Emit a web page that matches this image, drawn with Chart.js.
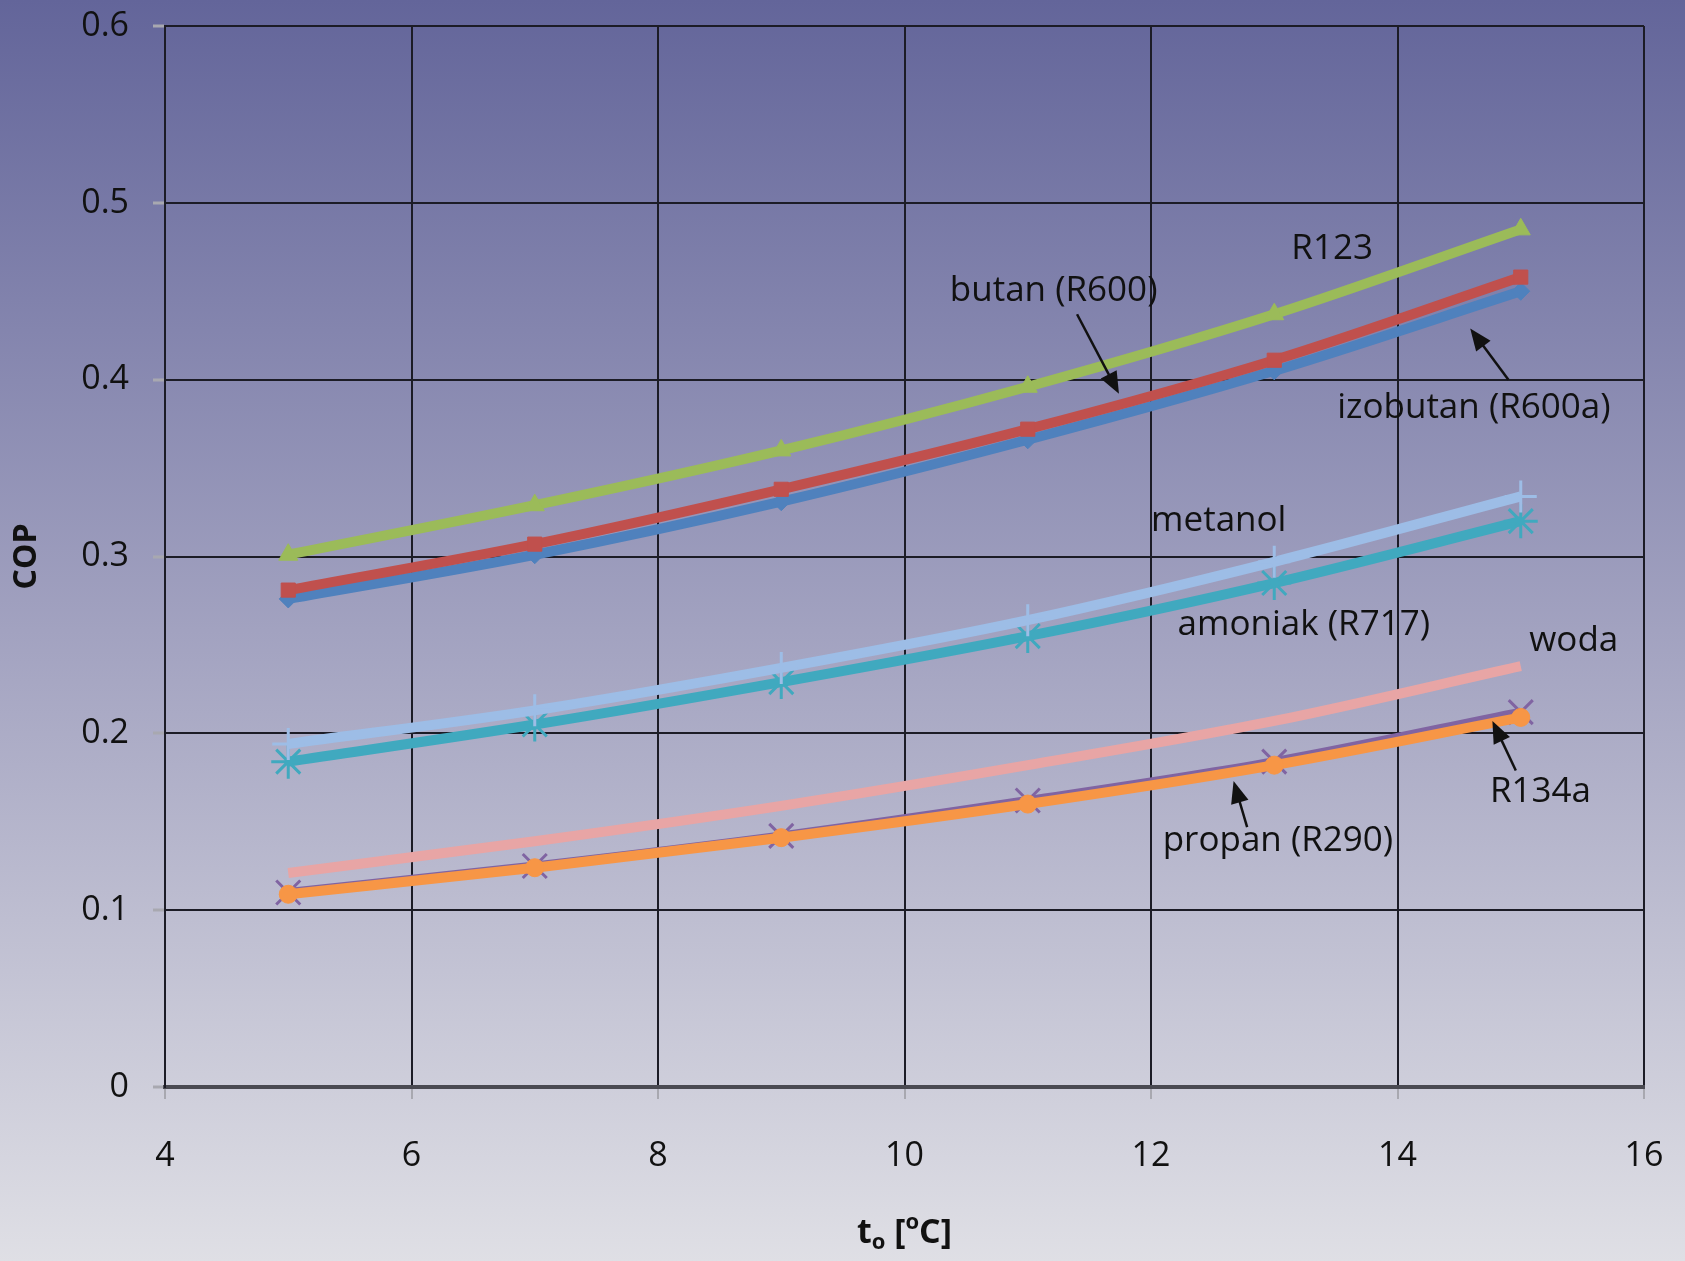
<!DOCTYPE html>
<html lang="pl">
<head>
    <meta charset="UTF-8">
    <title>COP vs t0</title>
    <script src="https://cdn.jsdelivr.net/npm/chart.js"></script>
    <style>
        html, body {
            margin: 0;
            padding: 0;
            background: #a0a0bc;
        }
        #wrap {
            width: 1685px;
            height: 1261px;
            position: relative;
        }
    </style>
</head>
<body>
    <div id="wrap">
        <canvas id="copChart"></canvas>
    </div>

    <script>
        // evaporation temperature t0 [°C]
        const temps = [5, 7, 9, 11, 13, 15];

        // COP values
        const r123     = [0.301, 0.329, 0.360, 0.396, 0.437, 0.485];
        const butan    = [0.281, 0.307, 0.338, 0.372, 0.411, 0.458];
        const izobutan = [0.276, 0.301, 0.331, 0.366, 0.405, 0.450];
        const metanol  = [0.194, 0.213, 0.237, 0.264, 0.297, 0.334];
        const amoniak  = [0.184, 0.205, 0.229, 0.255, 0.285, 0.320];
        const woda     = [0.121, 0.139, 0.159, 0.182, 0.207, 0.238];
        const r134a    = [0.110, 0.125, 0.142, 0.162, 0.184, 0.212];
        const propan   = [0.109, 0.124, 0.141, 0.160, 0.182, 0.209];

        const xTicks = [4, 6, 8, 10, 12, 14, 16];
        const yTicks = [0, 0.1, 0.2, 0.3, 0.4, 0.5, 0.6];

        // labels on the plot (x, y in data units), with optional arrow
        const notes = [
            { text: 'R123', x: 13.47, y: 0.474 },
            { text: 'butan (R600)', x: 11.21, y: 0.450, arrow: [11.40, 0.437, 11.74, 0.392] },
            { text: 'izobutan (R600a)', x: 14.62, y: 0.384, arrow: [14.90, 0.400, 14.59, 0.429] },
            { text: 'metanol', x: 12.55, y: 0.320 },
            { text: 'amoniak (R717)', x: 13.24, y: 0.261 },
            { text: 'woda', x: 15.43, y: 0.252 },
            { text: 'R134a', x: 15.16, y: 0.167, arrow: [14.96, 0.179, 14.77, 0.207] },
            { text: 'propan (R290)', x: 13.03, y: 0.139, arrow: [12.78, 0.147, 12.67, 0.173] }
        ];

        const pts = arr => arr.map((v, i) => ({ x: temps[i], y: v }));

        function series(label, values, color, style, radius, lineW) {
            return {
                label: label,
                data: pts(values),
                borderColor: color,
                backgroundColor: color,
                pointBorderColor: color,
                pointBackgroundColor: color,
                borderWidth: lineW || 10,
                pointStyle: style,
                pointRadius: radius,
                pointBorderWidth: style === 'star' || style === 'crossRot' || style === 'cross' ? 3 : 1,
                cubicInterpolationMode: 'monotone'
            };
        }

        // first dataset is drawn on top
        const datasets = [
            series('R123', r123, '#9bbb59', 'triangle', 11),
            series('butan (R600)', butan, '#c0504d', 'rect', 10),
            series('izobutan (R600a)', izobutan, '#4f81bd', 'rectRot', 9),
            series('propan (R290)', propan, '#f79646', 'circle', 9),
            series('R134a', r134a, '#8064a2', 'crossRot', 17, 9),
            series('metanol', metanol, '#9dbde6', 'cross', 16),
            series('amoniak (R717)', amoniak, '#40a9bf', 'star', 17),
            series('woda', woda, '#e8a5a5', 'circle', 0)
        ];

        const bgPlugin = {
            id: 'bg',
            beforeDraw(chart) {
                const ctx = chart.ctx;
                const g = ctx.createLinearGradient(0, 0, 0, chart.height);
                g.addColorStop(0, '#63659a');
                g.addColorStop(0.5, '#a2a2c0');
                g.addColorStop(1, '#dfdfe5');
                ctx.save();
                ctx.fillStyle = g;
                ctx.fillRect(0, 0, chart.width, chart.height);
                ctx.restore();
            }
        };

        const notesPlugin = {
            id: 'notes',
            afterDatasetsDraw(chart) {
                const ctx = chart.ctx;
                const xs = chart.scales.x, ys = chart.scales.y;
                ctx.save();
                ctx.fillStyle = '#111';
                ctx.strokeStyle = '#111';
                ctx.font = '35px "Open Sans"';
                ctx.textAlign = 'center';
                ctx.textBaseline = 'middle';
                notes.forEach(n => {
                    ctx.fillText(n.text, xs.getPixelForValue(n.x), ys.getPixelForValue(n.y));
                    if (n.arrow) {
                        const x1 = xs.getPixelForValue(n.arrow[0]), y1 = ys.getPixelForValue(n.arrow[1]);
                        const x2 = xs.getPixelForValue(n.arrow[2]), y2 = ys.getPixelForValue(n.arrow[3]);
                        const a = Math.atan2(y2 - y1, x2 - x1);
                        ctx.lineWidth = 2.5;
                        ctx.beginPath();
                        ctx.moveTo(x1, y1);
                        ctx.lineTo(x2 - 14 * Math.cos(a), y2 - 14 * Math.sin(a));
                        ctx.stroke();
                        ctx.beginPath();
                        ctx.moveTo(x2, y2);
                        ctx.lineTo(x2 - 22 * Math.cos(a) + 9 * Math.sin(a), y2 - 22 * Math.sin(a) - 9 * Math.cos(a));
                        ctx.lineTo(x2 - 22 * Math.cos(a) - 9 * Math.sin(a), y2 - 22 * Math.sin(a) + 9 * Math.cos(a));
                        ctx.closePath();
                        ctx.fill();
                    }
                });

                // axis titles
                const area = chart.chartArea;
                ctx.font = 'bold 32px "Open Sans"';
                ctx.save();
                ctx.translate(27, (area.top + area.bottom) / 2);
                ctx.rotate(-Math.PI / 2);
                ctx.fillText('COP', 0, 0);
                ctx.restore();

                // t with subscript o, then [°C] with raised o
                const cx = (area.left + area.right) / 2;
                const cy = 1233;
                const big = 'bold 34px "Open Sans"', small = 'bold 22px "Open Sans"';
                const parts = [
                    { t: 't', f: big, dy: 0 },
                    { t: 'o', f: small, dy: 10 },
                    { t: ' [', f: big, dy: 0 },
                    { t: 'o', f: small, dy: -10 },
                    { t: 'C]', f: big, dy: 0 }
                ];
                let total = 0;
                parts.forEach(p => { ctx.font = p.f; p.w = ctx.measureText(p.t).width; total += p.w; });
                let px = cx - total / 2;
                ctx.textAlign = 'left';
                parts.forEach(p => {
                    ctx.font = p.f;
                    ctx.fillText(p.t, px, cy + p.dy);
                    px += p.w;
                });
                ctx.restore();
            }
        };

        const noPad = s => {
            s.paddingTop = 0;
            s.paddingBottom = 0;
            s.paddingLeft = 0;
            s.paddingRight = 0;
        };

        new Chart(document.getElementById('copChart'), {
            type: 'line',
            data: { datasets: datasets },
            plugins: [bgPlugin, notesPlugin],
            options: {
                responsive: true,
                maintainAspectRatio: false,
                animation: false,
                devicePixelRatio: 1,
                layout: { padding: { top: 26, right: 41, left: 0, bottom: 0 } },
                plugins: {
                    legend: { display: false },
                    tooltip: { enabled: false }
                },
                scales: {
                    x: {
                        type: 'linear',
                        min: 4,
                        max: 16,
                        afterBuildTicks: s => { s.ticks = xTicks.map(v => ({ value: v })); },
                        afterFit: s => { s.height = 174; noPad(s); },
                        ticks: {
                            color: '#111',
                            font: { family: 'Open Sans', size: 34 },
                            padding: 37,
                            maxRotation: 0
                        },
                        grid: {
                            color: '#1c1c26',
                            lineWidth: 2,
                            tickColor: '#a8a8b0',
                            tickLength: 12,
                            tickWidth: 2
                        },
                        border: { color: '#4a4a52', width: 4 }
                    },
                    y: {
                        min: 0,
                        max: 0.6,
                        afterBuildTicks: s => { s.ticks = yTicks.map(v => ({ value: v })); },
                        afterFit: s => { s.width = 165; noPad(s); },
                        ticks: {
                            color: '#111',
                            font: { family: 'Open Sans', size: 34 },
                            padding: 24,
                            callback: v => v === 0 ? '0' : v.toFixed(1)
                        },
                        grid: {
                            color: '#1c1c26',
                            lineWidth: 2,
                            tickColor: '#a8a8b0',
                            tickLength: 12,
                            tickWidth: 3
                        },
                        border: { color: '#1c1c26', width: 2 }
                    }
                }
            }
        });
    </script>
</body>
</html>
